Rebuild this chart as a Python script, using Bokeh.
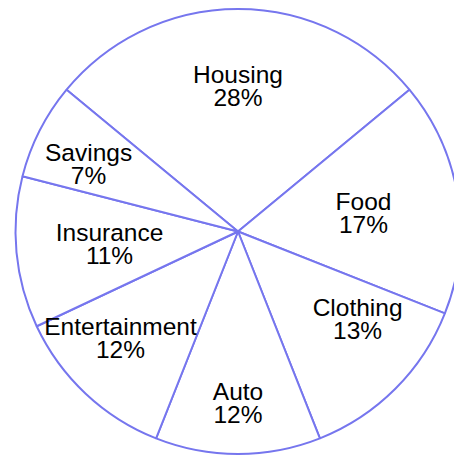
import math
from bokeh.plotting import figure
from bokeh.models import Range1d, ColumnDataSource
from bokeh.core.properties import value
from bokeh.embed import file_html
from bokeh.resources import INLINE

# ---- data ----
categories = ["Housing", "Food", "Clothing", "Auto", "Entertainment", "Insurance", "Savings"]
percents = [28, 17, 13, 12, 12, 11, 7]

# ---- layout (label placement tweaks, not data) ----
label_r_frac = [0.656, 0.570, 0.666, 0.771, 0.714, 0.580, 0.737]
label_da = [0.0, -0.6, 8.8, 0.0, -4.5, 0.0, 2.7]

W, H = 454, 455
cx, cy = 237.5, H - 231
R = 222.5
line_col = "#7676EE"

total = float(sum(percents))
start = 90 + percents[0] / total * 360 / 2  # Housing centred at top

starts, ends, mids = [], [], []
a = start
for v in percents:
    sweep = v / total * 360
    starts.append(a - sweep)
    ends.append(a)
    mids.append(a - sweep / 2)
    a -= sweep

p = figure(width=W, height=H, output_backend="svg", toolbar_location=None,
           x_range=Range1d(0, W), y_range=Range1d(0, H), min_border=0)
p.axis.visible = False
p.grid.visible = False
p.outline_line_color = None
p.background_fill_color = "white"
p.border_fill_color = "white"

src = ColumnDataSource(dict(
    x=[cx] * len(percents), y=[cy] * len(percents),
    s=[math.radians(v) for v in starts], e=[math.radians(v) for v in ends],
))
p.wedge(x="x", y="y", radius=R, start_angle="s", end_angle="e", direction="anticlock",
        source=src, fill_color="white", line_color=line_col, line_width=2)

lx, ly, names, pcts = [], [], [], []
for cat, v, m, rf, da in zip(categories, percents, mids, label_r_frac, label_da):
    ang = math.radians(m + da)
    lx.append(cx + rf * R * math.cos(ang))
    ly.append(cy + rf * R * math.sin(ang))
    names.append(cat)
    pcts.append(f"{v}%")

lsrc = ColumnDataSource(dict(x=lx, y=ly, n=names, p=pcts))
common = dict(text_font=value("Liberation Sans"), text_font_size="24.5px",
              text_color="#000000", text_align="center", text_baseline="middle")
p.text(x="x", y="y", text="n", source=lsrc, y_offset=-11.5, **common)
p.text(x="x", y="y", text="p", source=lsrc, y_offset=11.5, **common)

open("out.html", "w").write(file_html(p, INLINE))
